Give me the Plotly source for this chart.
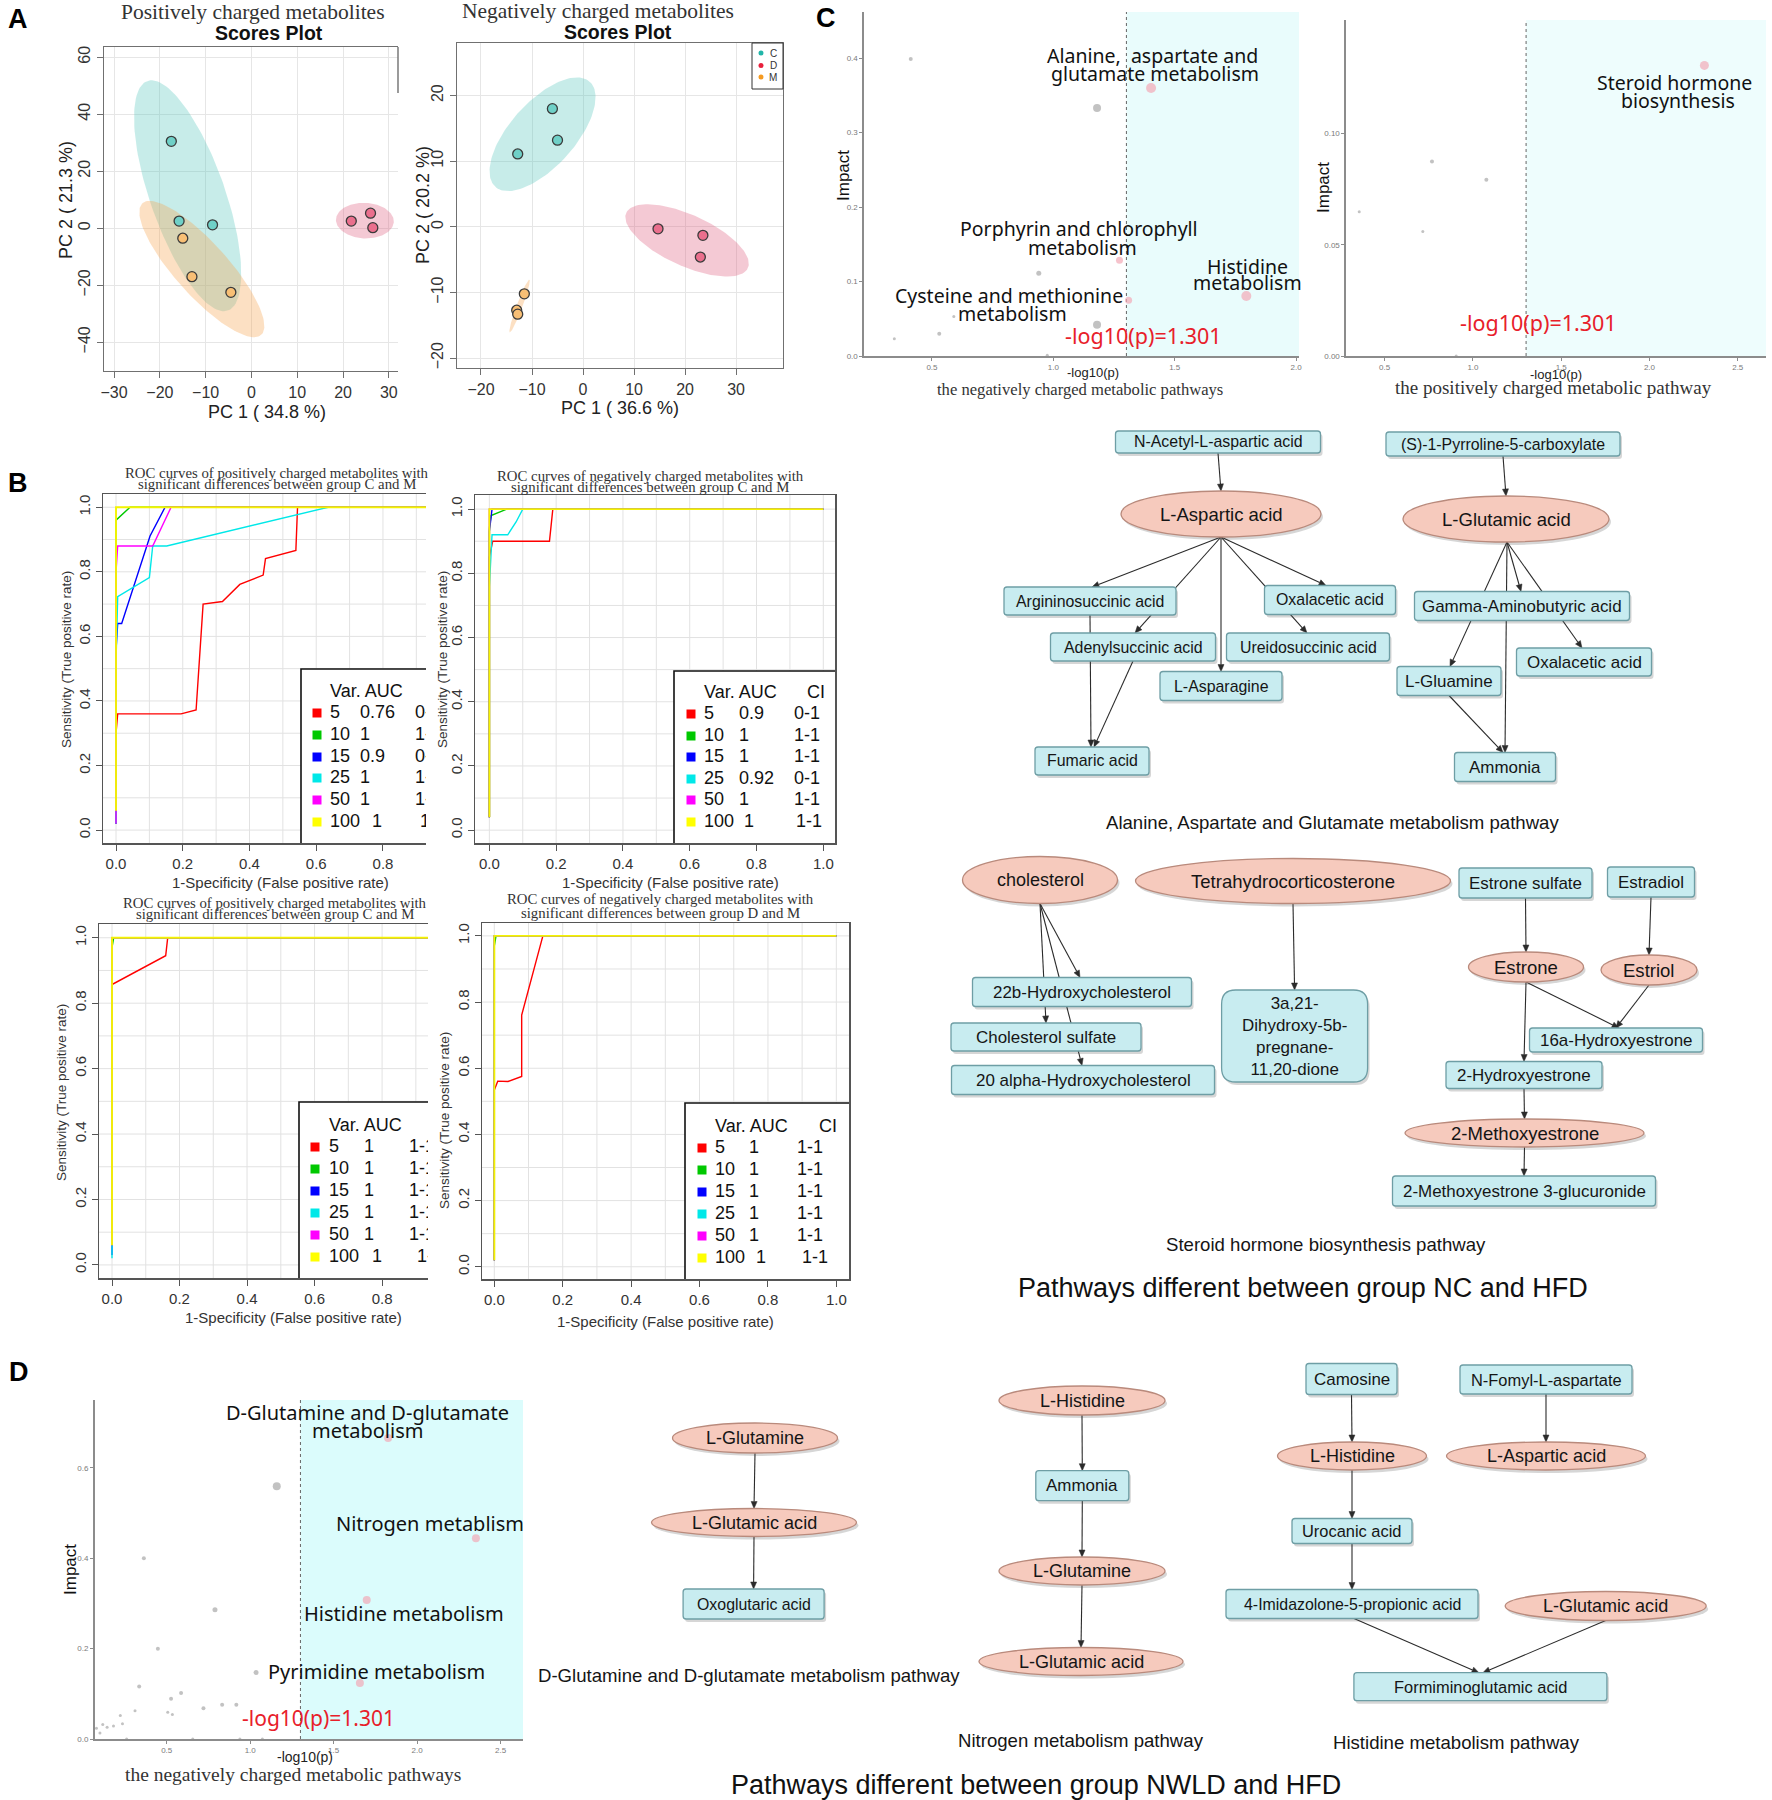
import numpy as np
import plotly.graph_objects as go

W, H = 1772, 1800

# ============================ DATA ============================
# ---- A: PCA scores plots ----
pca_groups = ["C", "D", "M"]
pos_pc1 = {"C": [-17.5, -15.8, -8.5], "D": [21.8, 26.0, 26.5], "M": [-15.0, -13.0, -4.5]}
pos_pc2 = {"C": [30.5, 2.5, 1.2], "D": [2.5, 5.3, 0.2], "M": [-3.5, -17.0, -22.5]}
neg_pc1 = {"C": [-6.0, -5.0, -12.8], "D": [14.7, 23.5, 23.0], "M": [-11.5, -13.0, -12.8]}
neg_pc2 = {"C": [18.0, 13.2, 11.1], "D": [-0.3, -1.3, -4.6], "M": [-10.2, -12.7, -13.3]}
pos_axis_titles = ["PC 1 ( 34.8 %)", "PC 2 ( 21.3 %)"]
neg_axis_titles = ["PC 1 ( 36.6 %)", "PC 2 ( 20.2 %)"]
pos_titles = ["Positively charged metabolites", "Scores Plot"]
neg_titles = ["Negatively charged metabolites", "Scores Plot"]

# ---- B: ROC curves (1-specificity, sensitivity) for 5/10/15/25/50/100 variables ----
roc_vars = ["5", "10", "15", "25", "50", "100"]
b1_fpr = [[0, 0, 0.005, 0.195, 0.24, 0.261, 0.319, 0.371, 0.441, 0.448, 0.539, 0.544, 1.0],
          [0, 0, 0.042, 1.0],
          [0, 0, 0.005, 0.017, 0.102, 0.147, 1.0],
          [0, 0, 0.005, 0.10, 0.11, 0.152, 0.636, 1.0],
          [0, 0, 0.005, 0.11, 0.165, 1.0],
          [0, 0, 1.0]]
b1_tpr = [[0.02, 0.30, 0.36, 0.36, 0.372, 0.70, 0.708, 0.761, 0.79, 0.841, 0.866, 1.0, 1.0],
          [0.02, 0.96, 1.0, 1.0],
          [0.02, 0.558, 0.64, 0.64, 0.911, 1.0, 1.0],
          [0.02, 0.52, 0.723, 0.782, 0.88, 0.88, 1.0, 1.0],
          [0.02, 0.80, 0.88, 0.88, 1.0, 1.0],
          [0.06, 1.0, 1.0]]
b1_auc = ["0.76", "1", "0.9", "1", "1", "1"]
b1_ci = ["0-1", "1-1", "0-1", "1-1", "1-1", "1-1"]

b2_fpr = [[0, 0, 0.01, 0.18, 0.19, 1.0],
          [0, 0, 0.005, 0.052, 1.0],
          [0, 0, 0.008, 1.0],
          [0, 0, 0.008, 0.055, 0.08, 0.10, 1.0],
          [0, 0, 1.0],
          [0, 0, 1.0]]
b2_tpr = [[0.04, 0.85, 0.90, 0.90, 1.0, 1.0],
          [0.04, 0.94, 0.98, 1.0, 1.0],
          [0.04, 0.93, 1.0, 1.0],
          [0.04, 0.758, 0.92, 0.92, 0.96, 1.0, 1.0],
          [0.04, 1.0, 1.0],
          [0.04, 1.0, 1.0]]
b2_auc = ["0.9", "1", "1", "0.92", "1", "1"]
b2_ci = ["0-1", "1-1", "1-1", "0-1", "1-1", "1-1"]

b3_fpr = [[0, 0, 0.159, 0.165, 1.0],
          [0, 0, 0.005, 1.0],
          [0, 0, 1.0],
          [0, 0, 1.0],
          [0, 0, 1.0],
          [0, 0, 1.0]]
b3_tpr = [[0.06, 0.857, 0.945, 1.0, 1.0],
          [0.06, 0.97, 1.0, 1.0],
          [0.03, 1.0, 1.0],
          [0.02, 1.0, 1.0],
          [0.06, 1.0, 1.0],
          [0.06, 1.0, 1.0]]
b3_auc = ["1", "1", "1", "1", "1", "1"]
b3_ci = ["1-1", "1-1", "1-1", "1-1", "1-1", "1-1"]

b4_fpr = [[0, 0, 0.01, 0.04, 0.08, 0.08, 0.142, 1.0],
          [0, 0, 0.005, 1.0],
          [0, 0, 1.0],
          [0, 0, 1.0],
          [0, 0, 1.0],
          [0, 0, 1.0]]
b4_tpr = [[0.02, 0.534, 0.561, 0.56, 0.575, 0.761, 1.0, 1.0],
          [0.02, 0.97, 1.0, 1.0],
          [0.02, 1.0, 1.0],
          [0.02, 1.0, 1.0],
          [0.02, 1.0, 1.0],
          [0.02, 1.0, 1.0]]
b4_auc = ["1", "1", "1", "1", "1", "1"]
b4_ci = ["1-1", "1-1", "1-1", "1-1", "1-1", "1-1"]

b_titles = {
    "B1": ["ROC curves of positively charged metabolites with", "significant differences between group C and M"],
    "B2": ["ROC curves of negatively charged metabolites with", "significant differences between group C and M"],
    "B3": ["ROC curves of positively charged metabolites with", "significant differences between group C and M"],
    "B4": ["ROC curves of negatively charged metabolites with", "significant differences between group D and M"],
}

# ---- C / D: pathway impact plots ----
sig_threshold = 1.301
c1_other_logp = [0.4125, 1.18, 0.94, 0.59, 0.53, 0.345, 1.18, 0.975]
c1_other_impact = [0.399, 0.333, 0.111, 0.053, 0.030, 0.023, 0.042, 0.001]
c1_other_size = [4, 8, 5, 3, 4, 3, 8, 3]
c1_sig_logp = [1.4025, 1.2725, 1.31, 1.795]
c1_sig_impact = [0.360, 0.1286, 0.0748, 0.0806]
c1_sig_size = [10, 7, 7, 10]

c2_other_logp = [0.768, 1.076, 0.356, 0.716, 0.905]
c2_other_impact = [0.0874, 0.0792, 0.0648, 0.0559, 0.0]
c2_other_size = [4, 4, 3, 3, 3]
c2_sig_logp = [2.311]
c2_sig_impact = [0.1306]
c2_sig_size = [9]

d1_other_logp = [1.159, 0.363, 0.789, 0.447, 1.035, 0.335, 0.586, 0.526, 0.832, 0.917, 0.72, 0.31, 0.506,
                 0.534, 0.222, 0.235, 0.117, 0.181, 0.143, 0.079, 0.10, 0.26, 0.656, 0.938, 1.073]
d1_other_impact = [0.559, 0.400, 0.286, 0.1995, 0.147, 0.116, 0.1016, 0.089, 0.0758, 0.0758, 0.068, 0.0626,
                   0.059, 0.054, 0.052, 0.034, 0.032, 0.029, 0.026, 0.024, 0.013, 0.0, 0.0, 0.0, 0.0]
d1_other_size = [8, 4, 5, 4, 5, 4, 4, 4, 4, 4, 4, 3, 3, 3, 3, 3, 3, 3, 3, 3, 3, 3, 3, 3, 3]
d1_sig_logp = [1.826, 2.352, 1.698, 1.657]
d1_sig_impact = [0.666, 0.444, 0.3077, 0.1237]
d1_sig_size = [8, 8, 8, 8]

threshold_label = "-log10(p)=1.301"
c1_subtitle = "the negatively charged metabolic pathways"
c2_subtitle = "the positively charged metabolic pathway"
d1_subtitle = "the negatively charged metabolic pathways"

# ---- pathway diagrams ----
node_labels = {
    "nacetyl": "N-Acetyl-L-aspartic acid", "pyrro": "(S)-1-Pyrroline-5-carboxylate",
    "asp": "L-Aspartic acid", "glu": "L-Glutamic acid",
    "argino": "Argininosuccinic acid", "oxal1": "Oxalacetic acid", "adenyl": "Adenylsuccinic acid",
    "ureido": "Ureidosuccinic acid", "asparagine": "L-Asparagine", "fumaric": "Fumaric acid",
    "gaba": "Gamma-Aminobutyric acid", "oxal2": "Oxalacetic acid", "gluamine": "L-Gluamine",
    "ammonia1": "Ammonia",
    "chol": "cholesterol", "tetra": "Tetrahydrocorticosterone", "estrsulf": "Estrone sulfate",
    "estradiol": "Estradiol", "estrone": "Estrone", "estriol": "Estriol",
    "h22b": "22b-Hydroxycholesterol", "cholsulf": "Cholesterol sulfate",
    "a20": "20 alpha-Hydroxycholesterol", "dihyd": "3a,21-<br>Dihydroxy-5b-<br>pregnane-<br>11,20-dione",
    "h16a": "16a-Hydroxyestrone", "hydroxy2": "2-Hydroxyestrone", "methoxy2": "2-Methoxyestrone",
    "gluc": "2-Methoxyestrone 3-glucuronide",
    "dgln": "L-Glutamine", "dglu": "L-Glutamic acid", "oxo": "Oxoglutaric acid",
    "nhis": "L-Histidine", "namm": "Ammonia", "ngln": "L-Glutamine", "nglu": "L-Glutamic acid",
    "camo": "Camosine", "nfomyl": "N-Fomyl-L-aspartate", "hhis": "L-Histidine", "hasp": "L-Aspartic acid",
    "uro": "Urocanic acid", "imid": "4-Imidazolone-5-propionic acid", "hglu": "L-Glutamic acid",
    "formi": "Formiminoglutamic acid",
}
# metabolites found altered (drawn as ellipses)
altered_nodes = ["asp", "glu", "chol", "tetra", "estrone", "estriol", "methoxy2",
                 "dgln", "dglu", "nhis", "ngln", "nglu", "hhis", "hasp", "hglu"]
edges = [
    ("nacetyl", "asp"), ("pyrro", "glu"), ("asp", "argino"), ("asp", "adenyl"), ("asp", "asparagine"),
    ("asp", "ureido"), ("asp", "oxal1"), ("argino", "fumaric"), ("adenyl", "fumaric"),
    ("glu", "gluamine"), ("glu", "ammonia1"), ("glu", "gaba"), ("glu", "oxal2"), ("gluamine", "ammonia1"),
    ("chol", "cholsulf"), ("chol", "h22b"), ("chol", "a20"), ("tetra", "dihyd"),
    ("estrsulf", "estrone"), ("estradiol", "estriol"), ("estrone", "h16a"), ("estriol", "h16a"),
    ("estrone", "hydroxy2"), ("hydroxy2", "methoxy2"), ("methoxy2", "gluc"),
    ("dgln", "dglu"), ("dglu", "oxo"),
    ("nhis", "namm"), ("namm", "ngln"), ("ngln", "nglu"),
    ("camo", "hhis"), ("nfomyl", "hasp"), ("hhis", "uro"), ("uro", "imid"), ("imid", "formi"), ("hglu", "formi"),
]
captions = ["Alanine, Aspartate and Glutamate metabolism pathway", "Steroid hormone biosynthesis pathway",
            "D-Glutamine and D-glutamate metabolism pathway", "Nitrogen metabolism pathway",
            "Histidine metabolism pathway"]
big_titles = ["Pathways different between group NC and HFD", "Pathways different between group NWLD and HFD"]
panel_letters = ["A", "B", "C", "D"]

# ============================ LAYOUT (pixel positions) ============================
SANS = "Liberation Sans, Arial, sans-serif"
SERIF = "Liberation Serif, Times New Roman, serif"
NOTO = "Noto Sans, Open Sans, sans-serif"

fig = go.Figure()
axes_layout = {}
panels = {}
shapes = []
annotations = []


def add_panel(name, i, xd, yd, xr, yr, xkw, ykw):
    panels[name] = dict(i=i, xd=xd, yd=yd, xr=xr, yr=yr)
    s = "" if i == 1 else str(i)
    axes_layout["xaxis" + s] = dict(domain=[xd[0] / W, xd[1] / W], range=xr, anchor="y" + s,
                                    automargin=False, **xkw)
    axes_layout["yaxis" + s] = dict(domain=[1 - yd[1] / H, 1 - yd[0] / H], range=yr, anchor="x" + s,
                                    automargin=False, **ykw)


def ax_ids(name):
    i = panels[name]["i"]
    s = "" if i == 1 else str(i)
    return "x" + s, "y" + s


def p2d(name, xp, yp):
    p = panels[name]
    (x0, x1), (y0, y1) = p["xd"], p["yd"]
    xr, yr = p["xr"], p["yr"]
    return (xr[0] + (xp - x0) / (x1 - x0) * (xr[1] - xr[0]),
            yr[1] - (yp - y0) / (y1 - y0) * (yr[1] - yr[0]))


def txt(s, x, y, size, family=SANS, color="#111", bold=False, angle=0, xanchor="center"):
    annotations.append(dict(text=(f"<b>{s}</b>" if bold else s), x=x / W, y=1 - y / H, xref="paper",
                            yref="paper", showarrow=False, textangle=angle, xanchor=xanchor,
                            yanchor="middle", font=dict(family=family, size=size, color=color)))


def P(x, y):
    return f"{x / W:.6f},{1 - y / H:.6f}"


# ---------------- Panel A ----------------
a_tick = dict(family=SANS, size=16, color="#333")
a_common = dict(showgrid=True, gridcolor="#E6E6E6", gridwidth=1, zeroline=False, showline=True,
                linecolor="#707070", linewidth=1.4, ticks="outside", ticklen=6, tickcolor="#707070",
                tickfont=a_tick)
add_panel("A1", 1, (104, 398), (47, 371), [-32.2, 32.0], [-50.1, 63.6],
          dict(a_common, tickvals=[-30, -20, -10, 0, 10, 20, 30], mirror=True),
          dict(a_common, tickvals=[-40, -20, 0, 20, 40, 60], tickangle=-90))
add_panel("A2", 2, (457, 783), (43, 368), [-24.7, 39.2], [-21.5, 28.0],
          dict(a_common, tickvals=[-20, -10, 0, 10, 20, 30], mirror=True),
          dict(a_common, tickvals=[-20, -10, 0, 10, 20], tickangle=-90, mirror=True))
# short remnant of the right frame edge of the first scores plot
shapes.append(dict(type="line", xref="paper", yref="paper", x0=398 / W, x1=398 / W, y0=1 - 93 / H, y1=1 - 47 / H,
                   line=dict(color="#707070", width=1.4)))


def conf_ellipse(x, y, n=140):
    x = np.asarray(x, float)
    y = np.asarray(y, float)
    cov = np.cov(x, y)
    vals, vecs = np.linalg.eigh(cov)
    vals = np.clip(vals, 0, None)
    t = np.linspace(0, 2 * np.pi, n)
    k = np.sqrt(5.991)  # 95% chi-square, 2 df
    circ = np.vstack([np.cos(t), np.sin(t)]) * (k * np.sqrt(vals))[:, None]
    pts = vecs @ circ
    return x.mean() + pts[0], y.mean() + pts[1]


grp_fill = {"C": "rgba(92,200,190,0.34)", "D": "rgba(224,96,128,0.34)", "M": "rgba(245,165,80,0.34)"}
grp_pt = {"C": "#6FD0C7", "D": "#EA6F8D", "M": "#F8BF75"}
for name, pc1, pc2 in [("A1", pos_pc1, pos_pc2), ("A2", neg_pc1, neg_pc2)]:
    xa, ya = ax_ids(name)
    for g in pca_groups:
        ex, ey = conf_ellipse(pc1[g], pc2[g])
        fig.add_trace(go.Scatter(x=ex, y=ey, mode="lines", fill="toself", fillcolor=grp_fill[g],
                                 line=dict(width=0), xaxis=xa, yaxis=ya, hoverinfo="skip"))
    for g in pca_groups:
        fig.add_trace(go.Scatter(x=pc1[g], y=pc2[g], mode="markers", name=g,
                                 marker=dict(size=10, color=grp_pt[g], line=dict(color="#3A3A3A", width=1.3)),
                                 xaxis=xa, yaxis=ya))

txt(pos_titles[0], 253, 12, 21.5, family=SERIF, color="#333")
txt(pos_titles[1], 269, 33, 19.5, bold=True)
txt(neg_titles[0], 598, 11, 21.5, family=SERIF, color="#333")
txt(neg_titles[1], 618, 32, 19.5, bold=True)
txt(pos_axis_titles[0], 267, 412, 18, color="#222")
txt(pos_axis_titles[1], 66, 200, 18, color="#222", angle=-90)
txt(neg_axis_titles[0], 620, 408, 18, color="#222")
txt(neg_axis_titles[1], 423, 205, 18, color="#222", angle=-90)
# A2 legend
shapes.append(dict(type="rect", xref="paper", yref="paper", x0=752 / W, x1=783 / W, y0=1 - 89 / H, y1=1 - 43 / H,
                   line=dict(color="#333", width=1), fillcolor="white", layer="above"))
leg_dot = {"C": "#20B5A8", "D": "#E8203C", "M": "#F59A20"}
for g, yy in zip(pca_groups, [53, 65.5, 77]):
    shapes.append(dict(type="circle", xref="paper", yref="paper", x0=(758.5) / W, x1=(763.5) / W,
                       y0=1 - (yy + 2.5) / H, y1=1 - (yy - 2.5) / H, fillcolor=leg_dot[g],
                       line=dict(width=0), layer="above"))
    txt(g, 773, yy, 10, color="#333")

# ---------------- Panel B ----------------
b_tick = dict(family=SANS, size=15, color="#333")
b_common = dict(showgrid=False, zeroline=False, showline=True, linecolor="#555", linewidth=1.5,
                ticks="outside", ticklen=6, tickcolor="#555", tickfont=b_tick,
                tickvals=[0, 0.2, 0.4, 0.6, 0.8, 1.0], tickformat=".1f")
add_panel("B1", 3, (103, 426), (494, 843), [-0.039, 0.929], [-0.04, 1.041],
          dict(b_common, mirror=True), dict(b_common, tickangle=-90))
add_panel("B2", 4, (475, 835), (495, 843), [-0.043, 1.035], [-0.04, 1.044],
          dict(b_common, mirror=True), dict(b_common, tickangle=-90, mirror=True))
add_panel("B3", 5, (99, 428), (924, 1278), [-0.0385, 0.936], [-0.04, 1.042],
          dict(b_common, mirror=True), dict(b_common, tickangle=-90))
add_panel("B4", 6, (482, 849), (923, 1279), [-0.036, 1.037], [-0.037, 1.039],
          dict(b_common, mirror=True), dict(b_common, tickangle=-90, mirror=True))

roc_colors = ["#FF0000", "#00C800", "#0000FF", "#00E8E8", "#FF00FF", "#F4F400"]
roc_widths = [1.4, 1.4, 1.4, 1.4, 1.4, 1.9]
b_data = {"B1": (b1_fpr, b1_tpr, b1_auc, b1_ci), "B2": (b2_fpr, b2_tpr, b2_auc, b2_ci),
          "B3": (b3_fpr, b3_tpr, b3_auc, b3_ci), "B4": (b4_fpr, b4_tpr, b4_auc, b4_ci)}
# legend geometry: box(left, top), square x, var col, auc col, ci col, ci header x, header y, row ys,
# extra shift of the last row (wider "100" entry) for auc / ci columns
b_leg = {
    "B1": dict(box=(301, 669), sq=317, var=330, auc=360, ci=415, cih=436, hy=692,
               rows=[713, 735, 757, 778, 800, 822], last=(12, 5)),
    "B2": dict(box=(674, 671), sq=691, var=704, auc=739, ci=794, cih=807, hy=693,
               rows=[714, 736, 757, 779, 800, 822], last=(5, 2)),
    "B3": dict(box=(299, 1102), sq=315, var=329, auc=364, ci=409, cih=434, hy=1126,
               rows=[1147, 1169, 1191, 1213, 1235, 1257], last=(8, 8)),
    "B4": dict(box=(685, 1103), sq=702, var=715, auc=749, ci=797, cih=819, hy=1127,
               rows=[1148, 1170, 1192, 1214, 1236, 1258], last=(7, 5)),
}
b_title_pos = {"B1": (277, 473, 484), "B2": (650, 476, 487), "B3": (275, 903, 914), "B4": (660, 899, 913)}
b_xtitle_pos = {"B1": (280, 882), "B2": (670, 882), "B3": (293, 1317), "B4": (665, 1321)}
b_ytitle_pos = {"B1": (66, 660), "B2": (442, 660), "B3": (61, 1093), "B4": (444, 1121)}

for name in ["B1", "B2", "B3", "B4"]:
    xa, ya = ax_ids(name)
    p = panels[name]
    fpr, tpr, auc, ci = b_data[name]
    # grid (major + minor every 0.1)
    for v in np.arange(0, 1.0001, 0.1):
        shapes.append(dict(type="line", xref=xa, yref=ya, x0=v, x1=v, y0=p["yr"][0], y1=p["yr"][1],
                           line=dict(color="#E2E2E2", width=1), layer="below"))
        shapes.append(dict(type="line", xref=xa, yref=ya, y0=v, y1=v, x0=p["xr"][0], x1=p["xr"][1],
                           line=dict(color="#E2E2E2", width=1), layer="below"))
    L = b_leg[name]
    bx, by = p2d(name, *L["box"])
    shapes.append(dict(type="rect", xref=xa, yref=ya, x0=bx, y0=by, x1=p["xr"][1] + 0.5, y1=p["yr"][0] - 0.5,
                       fillcolor="white", line=dict(color="#111", width=1.6), layer="below"))
    for k in range(len(roc_vars)):
        fig.add_trace(go.Scatter(x=fpr[k], y=tpr[k], mode="lines",
                                 line=dict(color=roc_colors[k], width=roc_widths[k]),
                                 xaxis=xa, yaxis=ya, hoverinfo="skip"))
    # legend contents (clipped to the plotting area like the cropped original)
    hx, hy = p2d(name, L["var"], L["hy"])
    hx3, _ = p2d(name, L["cih"], L["hy"])
    fig.add_trace(go.Scatter(x=[hx, hx3], y=[hy, hy], mode="text", text=["Var. AUC", "CI"],
                             textposition="middle right", textfont=dict(family=SANS, size=18, color="#111"),
                             xaxis=xa, yaxis=ya, hoverinfo="skip", cliponaxis=True))
    sqx = [p2d(name, L["sq"], ry)[0] for ry in L["rows"]]
    rys = [p2d(name, L["sq"], ry)[1] for ry in L["rows"]]
    fig.add_trace(go.Scatter(x=sqx, y=rys, mode="markers",
                             marker=dict(symbol="square", size=9, color=roc_colors[:5] + ["#FFFF00"],
                                         line=dict(width=0)),
                             xaxis=xa, yaxis=ya, hoverinfo="skip"))
    for col, vals, shift in [("var", roc_vars, 0), ("auc", auc, L["last"][0]), ("ci", ci, L["last"][1])]:
        cxs = [p2d(name, L[col] + (shift if r == 5 else 0), 0)[0] for r in range(6)]
        fig.add_trace(go.Scatter(x=cxs, y=rys, mode="text", text=vals, textposition="middle right",
                                 textfont=dict(family=SANS, size=18, color="#111"),
                                 xaxis=xa, yaxis=ya, hoverinfo="skip", cliponaxis=True))
    tx, t1, t2 = b_title_pos[name]
    txt(b_titles[name][0], tx, t1, 14.8, family=SERIF, color="#333")
    txt(b_titles[name][1], tx, t2, 14.8, family=SERIF, color="#333")
    txt("1-Specificity (False positive rate)", *b_xtitle_pos[name], 15, color="#333")
    txt("Sensitivity (True positive rate)", *b_ytitle_pos[name], 13.5, color="#333", angle=-90)

# ---------------- Panels C and D (pathway impact) ----------------
cd_common = dict(showgrid=False, zeroline=False, showline=True, linecolor="#8C8C8C", linewidth=1.6,
                 ticks="outside", ticklen=3, tickcolor="#8C8C8C",
                 tickfont=dict(family=SANS, size=8, color="#7A7A7A"))
add_panel("C1", 7, (864, 1299), (12, 356), [0.22, 2.012], [0, 0.462],
          dict(cd_common, tickvals=[0.5, 1.0, 1.5, 2.0], tickformat=".1f"),
          dict(cd_common, tickvals=[0, 0.1, 0.2, 0.3, 0.4], tickformat=".1f"))
add_panel("C2", 8, (1346, 1766), (20, 356), [0.281, 2.66], [0, 0.151],
          dict(cd_common, tickvals=[0.5, 1.0, 1.5, 2.0, 2.5], tickformat=".1f"),
          dict(cd_common, tickvals=[0, 0.05, 0.10], tickformat=".2f"))
add_panel("D1", 9, (94.6, 523), (1400, 1739), [0.068, 2.634], [0, 0.75],
          dict(cd_common, tickvals=[0.5, 1.0, 1.5, 2.0, 2.5], tickformat=".1f"),
          dict(cd_common, tickvals=[0, 0.2, 0.4, 0.6], tickformat=".1f"))

cd_sets = {
    "C1": (c1_other_logp, c1_other_impact, c1_other_size, c1_sig_logp, c1_sig_impact, c1_sig_size, "#E9FCFC"),
    "C2": (c2_other_logp, c2_other_impact, c2_other_size, c2_sig_logp, c2_sig_impact, c2_sig_size, "#EEFDFD"),
    "D1": (d1_other_logp, d1_other_impact, d1_other_size, d1_sig_logp, d1_sig_impact, d1_sig_size, "#DBFCFC"),
}
for name, (ox, oy, osz, sx, sy, ssz, shade) in cd_sets.items():
    xa, ya = ax_ids(name)
    p = panels[name]
    shapes.append(dict(type="rect", xref=xa, yref=ya, x0=sig_threshold, x1=p["xr"][1], y0=p["yr"][0],
                       y1=p["yr"][1], fillcolor=shade, line=dict(width=0), layer="below"))
    shapes.append(dict(type="line", xref=xa, yref=ya, x0=sig_threshold, x1=sig_threshold, y0=p["yr"][0],
                       y1=p["yr"][1], line=dict(color="#666", width=1, dash="dot"), layer="below"))
    fig.add_trace(go.Scatter(x=ox, y=oy, mode="markers", marker=dict(size=osz, color="#A8A8A8", line=dict(width=0)),
                             xaxis=xa, yaxis=ya, cliponaxis=False, hoverinfo="skip"))
    fig.add_trace(go.Scatter(x=sx, y=sy, mode="markers", marker=dict(size=ssz, color="#F2A9B7", line=dict(width=0)),
                             xaxis=xa, yaxis=ya, cliponaxis=False, hoverinfo="skip"))

RED = "#E8202A"
# C1 labels
for s, x, y in [("Alanine,  aspartate and", 1152, 55), ("glutamate metabolism", 1155, 73),
                ("Porphyrin and chlorophyll", 1079, 228), ("metabolism", 1082, 247),
                ("Histidine", 1247, 266), ("metabolism", 1247, 282),
                ("Cysteine and methionine", 1009, 296), ("metabolism", 1012, 314)]:
    txt(s, x, y, 19.5, family=NOTO, color="#111")
txt(threshold_label, 1143, 336, 21.5, family=NOTO, color=RED)
txt("Impact", 844, 176, 17, color="#111", angle=-90)
txt("-log10(p)", 1093, 372, 13, color="#222")
txt(c1_subtitle, 1080, 389, 16.6, family=SERIF, color="#333")
# C2 labels
txt("Steroid hormone", 1674, 83, 19.5, family=NOTO, color="#111")
txt("biosynthesis", 1678, 100, 19.5, family=NOTO, color="#111")
txt(threshold_label, 1538, 323, 21.5, family=NOTO, color=RED)
txt("Impact", 1323, 188, 17, color="#111", angle=-90)
txt("-log10(p)", 1556, 374, 13, color="#222")
txt(c2_subtitle, 1553, 388, 19, family=SERIF, color="#333")
# D1 labels
for s, x, y in [("D-Glutamine and D-glutamate", 367, 1412), ("metabolism", 367, 1430),
                ("Nitrogen metablism", 430, 1523), ("Histidine metabolism", 404, 1613),
                ("Pyrimidine metabolism", 376, 1671)]:
    txt(s, x, y, 20, family=NOTO, color="#111")
txt(threshold_label, 318, 1718, 21, family=NOTO, color=RED)
txt("Impact", 70, 1570, 17, color="#111", angle=-90)
txt("-log10(p)", 305, 1757, 14, color="#222")
txt(d1_subtitle, 293, 1774, 19.5, family=SERIF, color="#333")

# ---------------- pathway diagrams ----------------
# node geometry: cx, cy, w, h, font size
node_pos = {
    "nacetyl": (1218, 442, 205, 22, 15), "pyrro": (1503, 444, 234, 24, 15),
    "asp": (1221, 514, 200, 46, 17.5), "glu": (1506, 519, 206, 46, 17.5),
    "argino": (1090, 601, 172, 28, 15), "oxal1": (1330, 600, 131, 29, 15),
    "adenyl": (1133, 647, 165, 28, 15), "ureido": (1308, 647, 163, 28, 15),
    "asparagine": (1221, 686, 122, 29, 15), "fumaric": (1092, 761, 114, 28, 15),
    "gaba": (1522, 606, 215, 29, 16), "oxal2": (1584, 662, 135, 28, 16),
    "gluamine": (1449, 681, 104, 29, 16), "ammonia1": (1505, 767, 101, 29, 16),
    "chol": (1040, 880, 155, 47, 17), "tetra": (1293, 881, 315, 45, 17.5),
    "estrsulf": (1525.5, 883, 133, 30, 16), "estradiol": (1651, 882, 87, 30, 16),
    "estrone": (1526, 967, 115, 30, 17.5), "estriol": (1649, 970, 96, 30, 17.5),
    "h22b": (1082, 992, 219, 29, 16), "cholsulf": (1046, 1037, 190, 28, 16),
    "a20": (1083, 1080, 263, 29, 16), "dihyd": (1294.6, 1036, 146, 92, 16),
    "h16a": (1616, 1040, 173, 24, 16), "hydroxy2": (1524, 1075, 156, 27, 16),
    "methoxy2": (1524.5, 1133, 239, 28, 17.5), "gluc": (1524, 1191, 263, 30, 16),
    "dgln": (755, 1438, 165, 30, 17), "dglu": (754, 1522.5, 205, 28, 17), "oxo": (753.6, 1604, 141, 30, 15),
    "nhis": (1082, 1400.5, 166, 29, 17), "namm": (1082.3, 1485.7, 93, 30, 16),
    "ngln": (1082, 1571, 166, 28, 17), "nglu": (1081, 1661.5, 204, 28, 17),
    "camo": (1351.5, 1379, 91, 31, 16), "nfomyl": (1546, 1379.5, 172, 29, 15.5),
    "hhis": (1352, 1456, 149, 28, 17), "hasp": (1546, 1456, 199, 28, 17),
    "uro": (1352, 1531, 120, 25, 15.5), "imid": (1352, 1604, 252, 29, 15),
    "hglu": (1605.7, 1606, 201, 29, 17), "formi": (1480.4, 1686.7, 253, 28, 15.5),
}
NODE_FONT_SCALE = 1.06
# edge anchor x offsets (source bottom, target top)
edge_offsets = {
    ("asp", "argino"): (0, 2), ("asp", "adenyl"): (0, 2), ("asp", "ureido"): (0, -1), ("asp", "oxal1"): (0, -4),
    ("argino", "fumaric"): (0, -1), ("adenyl", "fumaric"): (0, 2),
    ("glu", "gluamine"): (1, 1), ("glu", "ammonia1"): (1, 0), ("glu", "gaba"): (1, -1), ("glu", "oxal2"): (1, -2),
    ("gluamine", "ammonia1"): (0, -2), ("chol", "h22b"): (0, -2), ("chol", "a20"): (0, -1),
    ("estrone", "h16a"): (0, 3), ("imid", "formi"): (2, -1.5), ("hglu", "formi"): (0, 2.5),
}
EDGE = "#2B2B2B"
for (s, d) in edges:
    sx_, sy_, sw, sh, _ = node_pos[s]
    dx_, dy_, dw, dh, _ = node_pos[d]
    o1, o2 = edge_offsets.get((s, d), (0, 0))
    x0, y0 = sx_ + o1, sy_ + sh / 2
    x1, y1 = dx_ + o2, dy_ - dh / 2
    vx, vy = x1 - x0, y1 - y0
    ln = np.hypot(vx, vy)
    ux, uy = vx / ln, vy / ln
    hl, hw = 7, 3
    bxp, byp = x1 - ux * hl, y1 - uy * hl
    shapes.append(dict(type="path", xref="paper", yref="paper", path=f"M{P(x0, y0)} L{P(bxp, byp)}",
                       line=dict(color=EDGE, width=1.1)))
    pa = (bxp - uy * hw, byp + ux * hw)
    pb = (bxp + uy * hw, byp - ux * hw)
    shapes.append(dict(type="path", xref="paper", yref="paper",
                       path=f"M{P(x1, y1)} L{P(*pa)} L{P(*pb)} Z", fillcolor=EDGE, line=dict(color=EDGE, width=0.5)))


def rrect_path(x0, y0, x1, y1, r):
    return (f"M{P(x0 + r, y0)} L{P(x1 - r, y0)} Q{P(x1, y0)} {P(x1, y0 + r)} L{P(x1, y1 - r)} "
            f"Q{P(x1, y1)} {P(x1 - r, y1)} L{P(x0 + r, y1)} Q{P(x0, y1)} {P(x0, y1 - r)} "
            f"L{P(x0, y0 + r)} Q{P(x0, y0)} {P(x0 + r, y0)} Z")


BOX_FILL, BOX_LINE = "#C8ECF0", "#6E9EA5"
ELL_FILL, ELL_LINE = "#F6CABD", "#B98A7C"
for nid, (cx, cy, w, h, fs) in node_pos.items():
    x0, x1, y0, y1 = cx - w / 2, cx + w / 2, cy - h / 2, cy + h / 2
    if nid in altered_nodes:
        shapes.append(dict(type="circle", xref="paper", yref="paper", x0=(x0 + 2) / W, x1=(x1 + 2) / W,
                           y0=1 - (y1 + 3) / H, y1=1 - (y0 + 3) / H, fillcolor="rgba(70,70,70,0.22)",
                           line=dict(width=0)))
        shapes.append(dict(type="circle", xref="paper", yref="paper", x0=x0 / W, x1=x1 / W,
                           y0=1 - y1 / H, y1=1 - y0 / H, fillcolor=ELL_FILL, line=dict(color=ELL_LINE, width=1.3)))
    else:
        r = 14 if nid == "dihyd" else 3
        shapes.append(dict(type="path", xref="paper", yref="paper", path=rrect_path(x0 + 2, y0 + 3, x1 + 2, y1 + 3, r),
                           fillcolor="rgba(70,70,70,0.22)", line=dict(width=0)))
        shapes.append(dict(type="path", xref="paper", yref="paper", path=rrect_path(x0, y0, x1, y1, r),
                           fillcolor=BOX_FILL, line=dict(color=BOX_LINE, width=1.3)))
    txt(node_labels[nid], cx, cy, fs * NODE_FONT_SCALE, color="#151515")

cap_pos = [(1332, 822), (1326, 1244), (749, 1675), (1081, 1740), (1456, 1742)]
for s, (x, y) in zip(captions, cap_pos):
    txt(s, x, y, 18.6, color="#151515")
txt(big_titles[0], 1303, 1288, 27, color="#111")
txt(big_titles[1], 1036, 1785, 27, color="#111")

for s, (x, y) in zip(panel_letters, [(18, 19), (18, 483), (826, 18), (19, 1372)]):
    txt(s, x, y, 27, bold=True, color="#000")

fig.update_layout(
    template="none", width=W, height=H, margin=dict(l=0, r=0, t=0, b=0),
    paper_bgcolor="white", plot_bgcolor="white", showlegend=False,
    font=dict(family=SANS, color="#111"),
    shapes=shapes, annotations=annotations, **axes_layout,
)
fig.write_html("out.html", config={"displayModeBar": False, "staticPlot": True},
               post_script="document.body.style.margin='0px';document.body.style.padding='0px';"
                           "document.body.style.overflow='hidden';")
